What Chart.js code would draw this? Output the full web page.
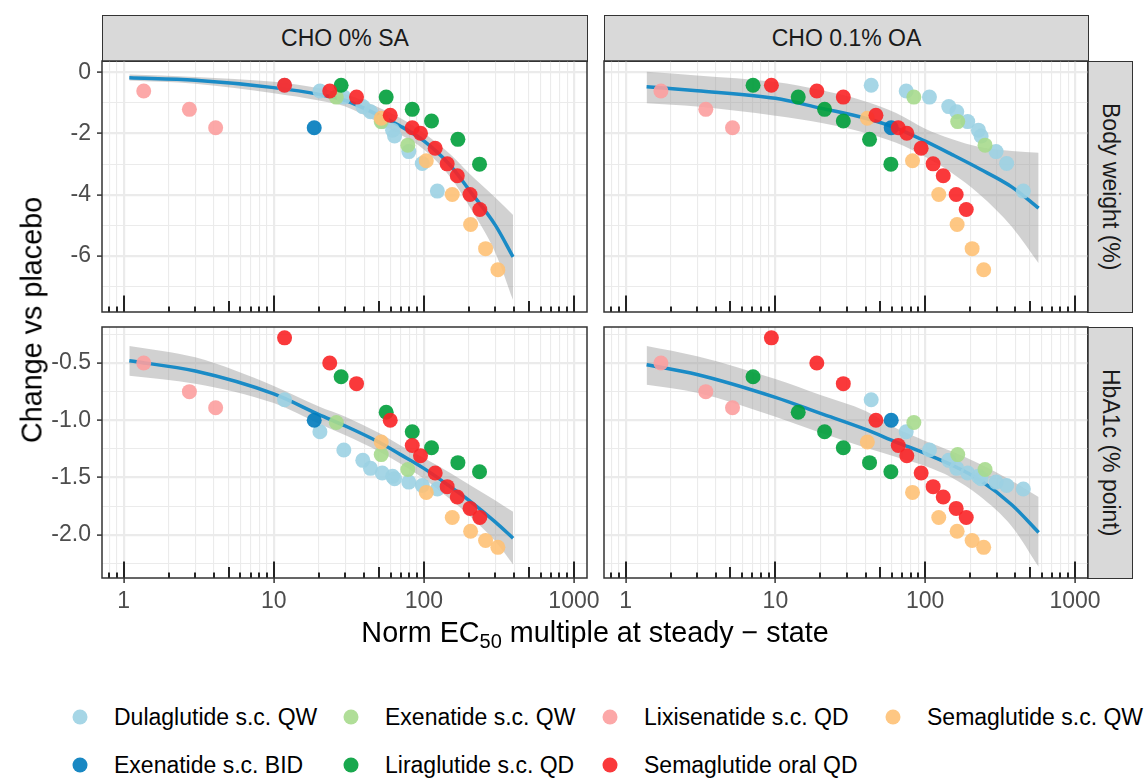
<!DOCTYPE html>
<html>
<head>
<meta charset="utf-8">
<title>Change vs placebo by norm EC50 multiple</title>
<script src="https://cdn.jsdelivr.net/npm/chart.js@4.4.1/dist/chart.umd.min.js"></script>
<style>
  body { margin: 0; background: #fff; font-family: "Liberation Sans", Arial, Helvetica, sans-serif; }
  #page { position: relative; width: 1144px; height: 778px; overflow: hidden; }
  canvas { position: absolute; }
  .strip { position: absolute; box-sizing: border-box; background: #d9d9d9; border: 1.5px solid #333;
           color: #1a1a1a; font-size: 23px; display: flex; align-items: center; justify-content: center; }
  .strip.side span { writing-mode: vertical-rl; white-space: nowrap; }
  .ytitle { position: absolute; left: 32px; top: 320px; transform: translate(-50%, -50%) rotate(-90deg);
            font-size: 28.75px; white-space: nowrap; }
  .xtitle { position: absolute; left: 595px; top: 632px; transform: translate(-50%, -50%);
            font-size: 28.75px; white-space: nowrap; }
  .xtitle sub { font-size: 20px; vertical-align: -6px; line-height: 0; }
  .key { position: absolute; width: 15px; height: 15px; border-radius: 50%; transform: translate(-50%, -50%); }
  .lab { position: absolute; font-size: 23px; transform: translateY(-50%); white-space: nowrap; color: #000; }
</style>
</head>
<body>
<div id="page">
  <div class="strip" style="left:102px;top:15px;width:486px;height:47px;">CHO 0% SA</div>
  <div class="strip" style="left:604px;top:15px;width:485px;height:47px;">CHO 0.1% OA</div>
  <div class="strip side" style="left:1087px;top:61px;width:46px;height:252px;"><span>Body weight (%)</span></div>
  <div class="strip side" style="left:1087px;top:327px;width:46px;height:252px;"><span>HbA1c (% point)</span></div>

  <canvas id="tl" width="577" height="271" style="left:40px;top:51px;"></canvas>
  <canvas id="bl" width="577" height="306" style="left:40px;top:317px;"></canvas>
  <canvas id="tr" width="524" height="271" style="left:594px;top:51px;"></canvas>
  <canvas id="br" width="524" height="306" style="left:594px;top:317px;"></canvas>

  <div class="ytitle">Change vs placebo</div>
  <div class="xtitle">Norm EC<sub>50</sub> multiple at steady − state</div>
  <div id="legend"></div>
</div>
<script>
// ---- data ----
const drugs = ['Dulaglutide s.c. QW', 'Exenatide s.c. BID', 'Exenatide s.c. QW', 'Liraglutide s.c. QD',
               'Lixisenatide s.c. QD', 'Semaglutide oral QD', 'Semaglutide s.c. QW'];
const drugColors = ['rgba(156,209,227,0.9)', 'rgba(0,123,189,0.9)', 'rgba(167,218,141,0.9)', 'rgba(0,159,59,0.9)',
                    'rgba(252,158,158,0.9)', 'rgba(250,36,38,0.9)', 'rgba(254,193,118,0.9)'];

// EC50 multiples (CHO 0% SA / CHO 0.1% OA), body weight change (%), HbA1c change (% point)
const dulaX_SA = [11.8, 20.3, 29.3, 39.2, 44.1, 52.8, 61.9, 63.8, 79.4, 97.6, 123];
const dulaX_OA = [43.6, 74.7, 106.8, 143.7, 162.5, 192.3, 226.6, 236.3, 297.3, 349.9, 452];
const dulaBW = [-0.42, -0.61, -0.81, -1.12, -1.29, -1.61, -1.89, -2.08, -2.59, -2.98, -3.88];
const dulaHbA1c = [-0.82, -1.10, -1.26, -1.35, -1.42, -1.46, -1.49, -1.51, -1.54, -1.57, -1.60];

const exeBidX_SA = [18.6];
const exeBidX_OA = [59.3];
const exeBidBW = [-1.81];
const exeBidHbA1c = [-1.00];

const exeQwX_SA = [26.1, 52.0, 78.2];
const exeQwX_OA = [84.0, 164.9, 251];
const exeQwBW = [-0.81, -1.61, -2.38];
const exeQwHbA1c = [-1.02, -1.30, -1.43];

const liraX_SA = [28.1, 56.1, 83.7, 112.5, 168.6, 235];
const liraX_OA = [7.09, 14.2, 21.3, 28.4, 42.5, 59.0];
const liraBW = [-0.42, -0.81, -1.21, -1.59, -2.19, -3.00];
const liraHbA1c = [-0.62, -0.93, -1.10, -1.24, -1.37, -1.45];

const lixiX_SA = [1.36, 2.74, 4.10];
const lixiX_OA = [1.72, 3.43, 5.17];
const lixiBW = [-0.61, -1.21, -1.81];
const lixiHbA1c = [-0.50, -0.75, -0.89];

const semaOralX_SA = [11.8, 23.6, 35.6, 59.7, 83.7, 95.0, 119, 143, 167, 203, 236];
const semaOralX_OA = [9.40, 18.9, 28.4, 46.9, 66.1, 75.4, 94.0, 113, 132, 161, 188];
const semaOralBW = [-0.42, -0.61, -0.81, -1.40, -1.81, -1.99, -2.48, -2.99, -3.38, -3.99, -4.48];
const semaOralHbA1c = [-0.28, -0.50, -0.68, -1.00, -1.22, -1.31, -1.46, -1.58, -1.67, -1.77, -1.85];

const semaScX_SA = [52.0, 103.8, 154.6, 204.9, 257.8, 311.3];
const semaScX_OA = [41.1, 82.3, 123.2, 163.4, 205.8, 245.8];
const semaScBW = [-1.50, -2.89, -3.99, -4.97, -5.76, -6.45];
const semaScHbA1c = [-1.19, -1.63, -1.85, -1.97, -2.05, -2.11];

// fitted curve and band, CHO 0% SA
const fitX_SA = [1.09, 3, 10, 20, 30, 50, 70, 100, 150, 200, 300, 393];
const fitBW_SA = [-0.18, -0.26, -0.50, -0.72, -0.92, -1.40, -1.76, -2.24, -3.04, -3.84, -5.00, -6.03];
const fitBWhi_SA = [-0.07, -0.15, -0.31, -0.52, -0.72, -1.15, -1.50, -1.98, -2.68, -3.30, -4.10, -4.66];
const fitBWlo_SA = [-0.27, -0.37, -0.68, -0.92, -1.12, -1.65, -2.04, -2.52, -3.42, -4.36, -5.90, -7.44];
const fitHb_SA = [-0.48, -0.57, -0.77, -0.95, -1.05, -1.19, -1.30, -1.42, -1.58, -1.70, -1.89, -2.03];
const fitHbhi_SA = [-0.35, -0.45, -0.70, -0.88, -0.97, -1.11, -1.22, -1.33, -1.46, -1.56, -1.70, -1.80];
const fitHblo_SA = [-0.61, -0.68, -0.85, -1.03, -1.13, -1.27, -1.38, -1.51, -1.69, -1.83, -2.06, -2.26];

// fitted curve and band, CHO 0.1% OA
const fitX_OA = [1.38, 3, 10, 20, 40, 64, 100, 150, 230, 380, 572];
const fitBW_OA = [-0.47, -0.60, -0.85, -1.17, -1.50, -1.82, -2.25, -2.68, -3.15, -3.75, -4.44];
const fitBWhi_OA = [0.02, -0.10, -0.32, -0.58, -0.95, -1.33, -1.84, -2.18, -2.44, -2.57, -2.63];
const fitBWlo_OA = [-1.01, -1.12, -1.42, -1.65, -1.98, -2.30, -2.76, -3.28, -3.98, -5.05, -6.24];
const fitHb_OA = [-0.515, -0.60, -0.80, -0.94, -1.08, -1.19, -1.29, -1.39, -1.52, -1.74, -1.98];
const fitHbhi_OA = [-0.35, -0.44, -0.64, -0.78, -0.92, -1.07, -1.18, -1.27, -1.38, -1.53, -1.67];
const fitHblo_OA = [-0.69, -0.76, -0.97, -1.11, -1.24, -1.32, -1.40, -1.50, -1.66, -1.93, -2.28];

const xLabels = ['1', '10', '100', '1000'];
const bwTicks = [-7, -6, -5, -4, -3, -2, -1, 0];
const hbaTicks = [-2.25, -2, -1.75, -1.5, -1.25, -1, -0.75, -0.5, -0.25];

// ---- look ----
const X_MIN = 0.717, X_MAX = 1222;
const GRID = '#EBEBEB';
const LINE_COLOR = '#1A8BC6';
const RIBBON = 'rgba(153,153,153,0.45)';
const FONT = '"Liberation Sans", Arial, Helvetica, sans-serif';
Chart.defaults.font.family = FONT;

// order: lower number is drawn on top
const series = [
    {name: drugs[0], color: drugColors[0], xSA: dulaX_SA, xOA: dulaX_OA, bw: dulaBW, hb: dulaHbA1c, order: 7},
    {name: drugs[1], color: drugColors[1], xSA: exeBidX_SA, xOA: exeBidX_OA, bw: exeBidBW, hb: exeBidHbA1c, order: 3},
    {name: drugs[2], color: drugColors[2], xSA: exeQwX_SA, xOA: exeQwX_OA, bw: exeQwBW, hb: exeQwHbA1c, order: 6},
    {name: drugs[3], color: drugColors[3], xSA: liraX_SA, xOA: liraX_OA, bw: liraBW, hb: liraHbA1c, order: 2},
    {name: drugs[4], color: drugColors[4], xSA: lixiX_SA, xOA: lixiX_OA, bw: lixiBW, hb: lixiHbA1c, order: 4},
    {name: drugs[5], color: drugColors[5], xSA: semaOralX_SA, xOA: semaOralX_OA, bw: semaOralBW, hb: semaOralHbA1c, order: 1},
    {name: drugs[6], color: drugColors[6], xSA: semaScX_SA, xOA: semaScX_OA, bw: semaScBW, hb: semaScHbA1c, order: 5}
];

// every integer multiple of a power of ten inside the range (minor grid + log ticks)
const xTickVals = [];
for (let k = -1; k <= 3; k++) {
    for (let m = 1; m <= 9; m++) {
        const v = +(m * Math.pow(10, k)).toPrecision(6);
        if (v >= X_MIN && v <= X_MAX) xTickVals.push(v);
    }
}
function mant(v) { return Math.round(v / Math.pow(10, Math.floor(Math.log10(v) + 1e-9))); }
function isDecade(v) { return mant(v) === 1; }

// log ticks inside the panel and the panel frame
const panelDeco = {
    id: 'panelDeco',
    afterDatasetsDraw(chart) {
        const ctx = chart.ctx, a = chart.chartArea, x = chart.scales.x;
        ctx.save();
        ctx.strokeStyle = '#000';
        ctx.lineWidth = 1.7;
        ctx.beginPath();
        xTickVals.forEach(function (v) {
            const px = Math.round(x.getPixelForValue(v));
            const m = mant(v);
            const len = m === 1 ? 16.5 : (m === 5 ? 11 : 5.5);
            ctx.moveTo(px, a.bottom);
            ctx.lineTo(px, a.bottom - len);
        });
        ctx.stroke();
        ctx.strokeStyle = '#333';
        ctx.lineWidth = 1.5;
        ctx.strokeRect(a.left, a.top, a.right - a.left, a.bottom - a.top);
        ctx.restore();
    }
};

function xy(xs, ys) { return xs.map(function (x, i) { return {x: x, y: ys[i]}; }); }

function drawPanel(id, col, row) {
    const left = col === 0, bottom = row === 1;
    const xKey = left ? 'xSA' : 'xOA', yKey = row === 0 ? 'bw' : 'hb';
    const fitX = left ? fitX_SA : fitX_OA;
    const fit = row === 0 ? (left ? [fitBW_SA, fitBWhi_SA, fitBWlo_SA] : [fitBW_OA, fitBWhi_OA, fitBWlo_OA])
                          : (left ? [fitHb_SA, fitHbhi_SA, fitHblo_SA] : [fitHb_OA, fitHbhi_OA, fitHblo_OA]);
    const yTicks = row === 0 ? bwTicks : hbaTicks;
    const yStep = row === 0 ? 2 : 0.5;
    const isMajorY = function (v) { return Math.abs(v / yStep - Math.round(v / yStep)) < 1e-6; };

    const datasets = series.map(function (s) {
        return {
            label: s.name,
            data: xy(s[xKey], s[yKey]),
            showLine: false,
            pointRadius: 7.5,
            pointBackgroundColor: s.color,
            pointBorderWidth: 0,
            order: s.order
        };
    });
    datasets.push({label: 'fit', data: xy(fitX, fit[0]), borderColor: LINE_COLOR, borderWidth: 3.5,
        pointRadius: 0, cubicInterpolationMode: 'monotone', fill: false, order: 20});
    datasets.push({label: 'upper', data: xy(fitX, fit[1]), borderWidth: 0, borderColor: 'rgba(0,0,0,0)',
        pointRadius: 0, cubicInterpolationMode: 'monotone', fill: false, order: 30});
    datasets.push({label: 'lower', data: xy(fitX, fit[2]), borderWidth: 0, borderColor: 'rgba(0,0,0,0)',
        pointRadius: 0, cubicInterpolationMode: 'monotone', fill: '-1', backgroundColor: RIBBON, order: 30});

    new Chart(document.getElementById(id), {
        type: 'line',
        data: {datasets: datasets},
        plugins: [panelDeco],
        options: {
            responsive: false,
            animation: false,
            events: [],
            layout: {padding: {top: 10, right: 30, bottom: bottom ? 0 : 10, left: left ? 0 : 10}},
            plugins: {legend: {display: false}, tooltip: {enabled: false}},
            scales: {
                x: {
                    type: 'logarithmic',
                    min: X_MIN,
                    max: X_MAX,
                    bounds: 'data',
                    afterBuildTicks: function (sc) {
                        sc.ticks = xTickVals.map(function (v) { return {value: v, major: isDecade(v)}; });
                    },
                    afterFit: function (sc) {
                        sc.height = bottom ? 45 : 0;
                        sc.paddingLeft = 0; sc.paddingRight = 0;
                    },
                    border: {display: false},
                    grid: {
                        color: GRID,
                        lineWidth: function (c) { return c.tick && isDecade(c.tick.value) ? 2.2 : 1.1; },
                        drawTicks: bottom,
                        tickLength: 5,
                        tickWidth: 1.5,
                        tickColor: function (c) { return c.tick && isDecade(c.tick.value) ? '#333' : 'rgba(0,0,0,0)'; }
                    },
                    ticks: {
                        display: bottom,
                        autoSkip: false,
                        maxRotation: 0,
                        padding: 5,
                        color: '#4D4D4D',
                        font: {size: 23, family: FONT},
                        callback: function (v) {
                            return isDecade(v) ? xLabels[Math.round(Math.log10(v))] : '';
                        }
                    }
                },
                y: {
                    type: 'linear',
                    min: row === 0 ? -7.83 : -2.378,
                    max: row === 0 ? 0.37 : -0.185,
                    afterBuildTicks: function (sc) {
                        sc.ticks = yTicks.map(function (v) { return {value: v}; });
                    },
                    afterFit: function (sc) {
                        sc.width = left ? 62 : 0;
                        sc.paddingTop = 0; sc.paddingBottom = 0;
                    },
                    border: {display: false},
                    grid: {
                        color: GRID,
                        lineWidth: function (c) { return c.tick && isMajorY(c.tick.value) ? 2.2 : 1.1; },
                        drawTicks: left,
                        tickLength: 5,
                        tickWidth: 1.5,
                        tickColor: function (c) { return c.tick && isMajorY(c.tick.value) ? '#333' : 'rgba(0,0,0,0)'; }
                    },
                    ticks: {
                        display: left,
                        padding: 6,
                        color: '#4D4D4D',
                        font: {size: 23, family: FONT},
                        callback: function (v) {
                            if (!isMajorY(v)) return '';
                            return row === 0 ? String(v) : v.toFixed(1);
                        }
                    }
                }
            }
        }
    });
}

drawPanel('tl', 0, 0);
drawPanel('tr', 1, 0);
drawPanel('bl', 0, 1);
drawPanel('br', 1, 1);

// legend (filled by rows, ggplot style)
const legendPos = [
    [0, 80, 717], [2, 351, 717], [4, 610, 717], [6, 893, 717],
    [1, 80, 765], [3, 351, 765], [5, 610, 765]
];
const legend = document.getElementById('legend');
legendPos.forEach(function (p) {
    const key = document.createElement('div');
    key.className = 'key';
    key.style.left = p[1] + 'px';
    key.style.top = p[2] + 'px';
    key.style.background = drugColors[p[0]];
    legend.appendChild(key);
    const lab = document.createElement('div');
    lab.className = 'lab';
    lab.style.left = (p[1] + 34) + 'px';
    lab.style.top = p[2] + 'px';
    lab.textContent = drugs[p[0]];
    legend.appendChild(lab);
});
</script>
</body>
</html>
